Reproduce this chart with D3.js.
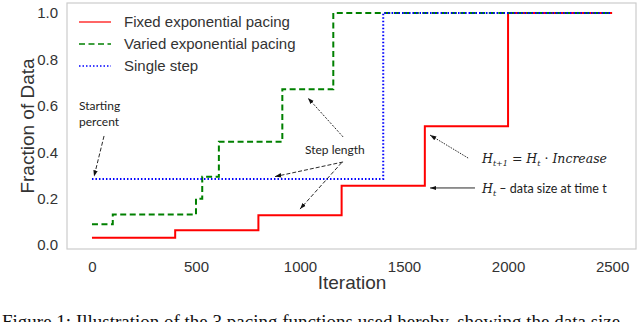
<!DOCTYPE html>
<html>
<head>
<meta charset="utf-8">
<script src="https://cdn.jsdelivr.net/npm/d3@7"></script>
<style>
  body { margin: 0; background: #fff; }
  svg { display: block; }
</style>
</head>
<body>
<div id="chart"></div>
<script>
// Step functions: iteration where each step starts, and fraction of data from there on
const fixedIter  = [0, 400, 800, 1200, 1600, 2000, 2500];
const fixedFrac  = [0.032, 0.064, 0.128, 0.256, 0.512, 1.0, 1.0];
const variedIter = [0, 100, 500, 530, 610, 915, 1160, 2500];
const variedFrac = [0.09, 0.132, 0.2, 0.294, 0.445, 0.671, 1.0, 1.0];
const singleIter = [0, 1400, 2500];
const singleFrac = [0.285, 1.0, 1.0];

const xTicks = [0, 500, 1000, 1500, 2000, 2500];
const yTicks = [0.0, 0.2, 0.4, 0.6, 0.8, 1.0];

const seriesNames = ["Fixed exponential pacing", "Varied exponential pacing", "Single step"];

const W = 640, H = 322;
const svg = d3.select("#chart").append("svg")
    .attr("width", W).attr("height", H);

// frame in pixels, domain padded like matplotlib does
const frame = {left: 67, right: 636, top: 3, bottom: 249};

const x = d3.scaleLinear().domain([-120, 2615]).range([frame.left, frame.right]);
const y = d3.scaleLinear().domain([-0.017, 1.043]).range([frame.bottom, frame.top]);

// frame
svg.append("rect")
    .attr("x", frame.left).attr("y", frame.top)
    .attr("width", frame.right - frame.left)
    .attr("height", frame.bottom - frame.top)
    .attr("fill", "none")
    .attr("stroke", "#cccccc")
    .attr("stroke-width", 1.2);

// axes (no tick lines, labels only)
const xAxis = svg.append("g")
    .attr("transform", `translate(0,${frame.bottom})`)
    .call(d3.axisBottom(x).tickValues(xTicks).tickSize(0).tickPadding(12).tickFormat(d3.format("d")));
const yAxis = svg.append("g")
    .attr("transform", `translate(${frame.left},0)`)
    .call(d3.axisLeft(y).tickValues(yTicks).tickSize(0).tickPadding(9).tickFormat(d3.format(".1f")));

[xAxis, yAxis].forEach(a => {
  a.select(".domain").remove();
  a.selectAll("text")
    .style("font-family", "'Liberation Sans', Arial, sans-serif")
    .style("font-size", "15px")
    .attr("fill", "#333");
});

// axis titles
svg.append("text")
    .attr("x", (x(0) + x(2500)) / 2)
    .attr("y", 289)
    .attr("text-anchor", "middle")
    .style("font-family", "'Liberation Sans', Arial, sans-serif")
    .style("font-size", "19px")
    .attr("fill", "#333")
    .text("Iteration");

svg.append("text")
    .attr("transform", `translate(34,${(frame.top + frame.bottom) / 2}) rotate(-90)`)
    .attr("text-anchor", "middle")
    .style("font-family", "'Liberation Sans', Arial, sans-serif")
    .style("font-size", "19px")
    .attr("fill", "#333")
    .text("Fraction of Data");

// series
const series = [
  {iter: fixedIter,  frac: fixedFrac,  color: "#ff0000", dash: null,    width: 2},
  {iter: variedIter, frac: variedFrac, color: "#008000", dash: "6,3.5", width: 2},
  {iter: singleIter, frac: singleFrac, color: "#0000ff", dash: "1.5,2", width: 2}
];

const line = d3.line()
    .x(d => x(d[0]))
    .y(d => y(d[1]))
    .curve(d3.curveStepAfter);

// draw red first, then green, then blue on top
series.forEach(s => {
  const pts = s.iter.map((v, i) => [v, s.frac[i]]);
  svg.append("path")
    .datum(pts)
    .attr("fill", "none")
    .attr("stroke", s.color)
    .attr("stroke-width", s.width)
    .attr("stroke-dasharray", s.dash)
    .attr("d", line);
});

// legend
const legend = svg.append("g")
  .selectAll("g")
  .data(series)
  .enter().append("g")
    .attr("transform", (d, i) => `translate(79, ${22 + i * 22})`);

legend.append("line")
    .attr("x1", 0).attr("x2", 32)
    .attr("stroke", d => d.color)
    .attr("stroke-width", d => d.dash ? 1.5 : 1.2)
    .attr("stroke-dasharray", d => d.dash);

legend.append("text")
    .attr("x", 45)
    .attr("dy", "0.35em")
    .style("font-family", "'Liberation Sans', Arial, sans-serif")
    .style("font-size", "15px")
    .attr("fill", "#333")
    .text((d, i) => seriesNames[i]);

// annotations
const defs = svg.append("defs");
defs.append("marker")
    .attr("id", "head")
    .attr("viewBox", "0 0 10 10")
    .attr("refX", 10).attr("refY", 5)
    .attr("markerWidth", 7).attr("markerHeight", 7)
    .attr("orient", "auto")
  .append("path")
    .attr("d", "M0,1.5 L10,5 L0,8.5 Z")
    .attr("fill", "#111");

// arrows in data coordinates: [fromIter, fromFrac, toIter, toFrac, dash]
const arrows = [
  [58, 0.47, 10, 0.295, "4,2"],
  [1207, 0.466, 1038, 0.634, "2,1.5"],
  [1207, 0.358, 880, 0.295, "4,2"],
  [1200, 0.355, 1000, 0.155, "4,2"],
  [1808, 0.375, 1625, 0.474, "1.5,1.2"],
  [1841, 0.246, 1625, 0.246, null]
];

svg.append("g").selectAll("line")
  .data(arrows)
  .enter().append("line")
    .attr("x1", d => x(d[0])).attr("y1", d => y(d[1]))
    .attr("x2", d => x(d[2])).attr("y2", d => y(d[3]))
    .attr("stroke", "#111")
    .attr("stroke-width", 0.9)
    .attr("stroke-dasharray", d => d[4])
    .attr("marker-end", "url(#head)");

const noteFont = "Lato, 'Open Sans', sans-serif";

svg.append("text")
    .attr("x", 79).attr("y", 110)
    .style("font-family", noteFont).style("font-size", "12px")
    .attr("fill", "#222")
    .text("Starting");
svg.append("text")
    .attr("x", 79).attr("y", 126)
    .style("font-family", noteFont).style("font-size", "12px")
    .attr("fill", "#222")
    .text("percent");

svg.append("text")
    .attr("x", 305).attr("y", 154)
    .style("font-family", noteFont).style("font-size", "12px")
    .attr("fill", "#222")
    .text("Step length");

const eq = svg.append("text")
    .attr("x", 482).attr("y", 163)
    .style("font-family", "'DejaVu Serif', 'Liberation Serif', serif")
    .style("font-size", "12.5px")
    .attr("fill", "#222");
eq.append("tspan").style("font-style", "italic").text("H");
eq.append("tspan").attr("dy", 3).style("font-size", "8px").style("font-style", "italic").text("t+1");
eq.append("tspan").attr("dy", -3).text(" = ");
eq.append("tspan").style("font-style", "italic").text("H");
eq.append("tspan").attr("dy", 3).style("font-size", "8px").style("font-style", "italic").text("t");
eq.append("tspan").attr("dy", -3).text(" · ");
eq.append("tspan").style("font-style", "italic").text("Increase");

const ht = svg.append("text")
    .attr("x", 482).attr("y", 193)
    .style("font-family", noteFont)
    .style("font-size", "12.5px")
    .attr("fill", "#222");
ht.append("tspan").style("font-family", "'DejaVu Serif', serif").style("font-style", "italic").text("H");
ht.append("tspan").attr("dy", 3).style("font-family", "'DejaVu Serif', serif").style("font-size", "8px").style("font-style", "italic").text("t");
ht.append("tspan").attr("dy", -3).text(" – data size at time t");

// caption, cut off at the bottom edge as in the source page
svg.append("text")
    .attr("x", 2).attr("y", 328)
    .style("font-family", "'Liberation Serif', 'Times New Roman', serif")
    .style("font-size", "19px")
    .attr("fill", "#111")
    .text("Figure 1: Illustration of the 3 pacing functions used hereby, showing the data size.");
</script>
</body>
</html>
